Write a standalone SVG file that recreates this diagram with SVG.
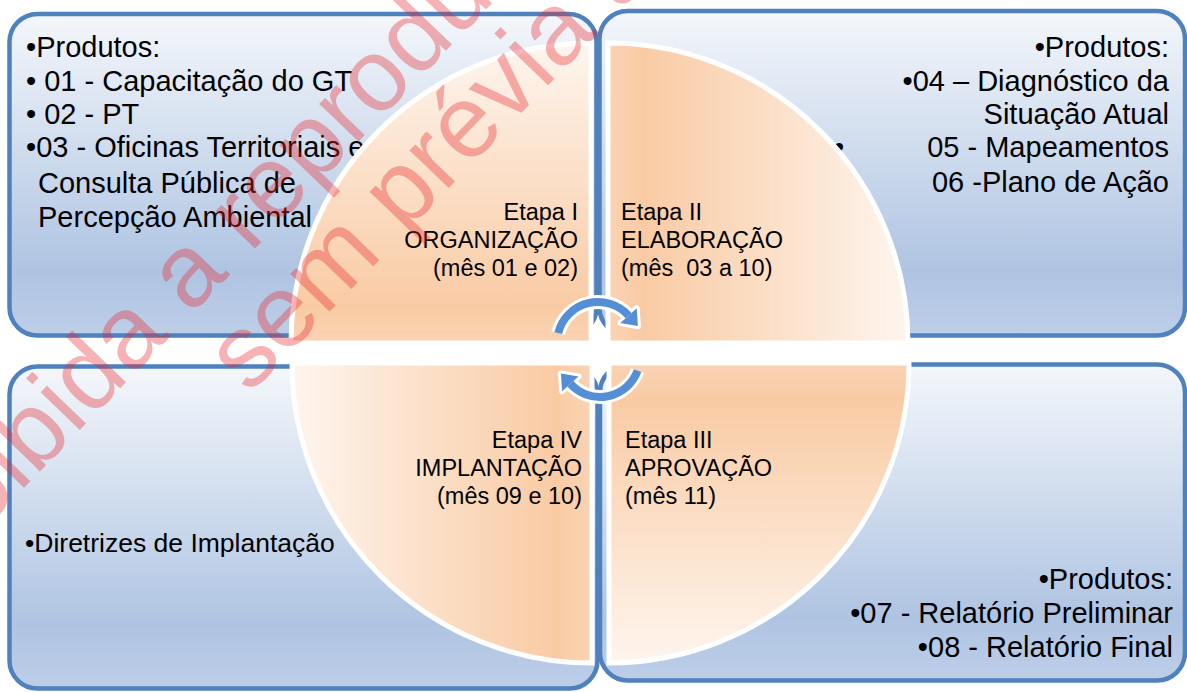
<svg xmlns="http://www.w3.org/2000/svg" width="1187" height="692" viewBox="0 0 1187 692">
<defs>
<linearGradient id="boxG" x1="0" y1="0" x2="0" y2="1">
<stop offset="0" stop-color="#f4f7fb"/>
<stop offset="0.8" stop-color="#afc4e2"/>
<stop offset="1" stop-color="#bdcee8"/>
</linearGradient>
<linearGradient id="qTL" gradientUnits="userSpaceOnUse" x1="0" y1="43" x2="0" y2="343">
<stop offset="0" stop-color="#fef5ee"/>
<stop offset="0.88" stop-color="#f9cba4"/>
<stop offset="1" stop-color="#fad3b4"/>
</linearGradient>
<linearGradient id="qTR" gradientUnits="userSpaceOnUse" x1="908" y1="0" x2="608" y2="0">
<stop offset="0" stop-color="#fef5ee"/>
<stop offset="0.88" stop-color="#f9cba4"/>
<stop offset="1" stop-color="#fad3b4"/>
</linearGradient>
<linearGradient id="qBR" gradientUnits="userSpaceOnUse" x1="0" y1="663" x2="0" y2="363">
<stop offset="0" stop-color="#fef5ee"/>
<stop offset="0.88" stop-color="#f9cba4"/>
<stop offset="1" stop-color="#fad3b4"/>
</linearGradient>
<linearGradient id="qBL" gradientUnits="userSpaceOnUse" x1="292" y1="0" x2="592" y2="0">
<stop offset="0" stop-color="#fef5ee"/>
<stop offset="0.88" stop-color="#f9cba4"/>
<stop offset="1" stop-color="#fad3b4"/>
</linearGradient>
</defs>
<style>
.box{fill:url(#boxG);stroke:#4f81bd;stroke-width:4.5}
.quad{stroke:#ffffff;stroke-width:5}
.t{font-family:"Liberation Sans",Arial,sans-serif;fill:#000000}
.big{font-size:29px}
.mid{font-size:23.5px}
.halo{fill:none;stroke:#ffffff;stroke-width:14}
.haloH{fill:#ffffff;stroke:#ffffff;stroke-width:6;stroke-linejoin:round}
.arc{fill:none;stroke:#558ed5;stroke-width:8}
.head{fill:#558ed5}
.wm{font-family:"Liberation Sans",Arial,sans-serif;font-size:103px;fill:#e62a2e;fill-opacity:0.36}
</style>
<rect width="1187" height="692" fill="#ffffff"/>

<g id="box-tl">
<rect class="box" x="9.5" y="14" width="587" height="321.5" rx="28"/>
<text class="t big" x="26" y="57">•Produtos:</text>
<text class="t big" x="26" y="91" xml:space="preserve">• 01 - Capacitação do GT</text>
<text class="t big" x="26" y="124" xml:space="preserve">• 02 - PT</text>
<text class="t big" x="26" y="157">•03 - Oficinas Territoriais e</text>
<text class="t big" x="38" y="193">Consulta Pública de</text>
<text class="t big" x="38" y="227">Percepção Ambiental</text>
</g>
<g id="box-tr">
<rect class="box" x="599.5" y="11" width="585.5" height="324.5" rx="28"/>
<g text-anchor="end">
<text class="t big" x="1169" y="57">•Produtos:</text>
<text class="t big" x="1169" y="91">•04 – Diagnóstico da</text>
<text class="t big" x="1169" y="124">Situação Atual</text>
<text class="t big" x="1169" y="157">05 - Mapeamentos</text>
<text class="t big" x="1169" y="192">06 -Plano de Ação</text>
</g>
<text class="t big" x="834" y="157">•</text>
</g>
<g id="box-bl">
<rect class="box" x="9.5" y="366.5" width="588" height="322" rx="28"/>
<text class="t" style="font-size:26.5px" x="25" y="552">•Diretrizes de Implantação</text>
</g>
<g id="box-br">
<rect class="box" x="600" y="364.5" width="585" height="316" rx="28"/>
<g text-anchor="end">
<text class="t big" x="1173" y="589">•Produtos:</text>
<text class="t big" x="1173" y="623">•07 - Relatório Preliminar</text>
<text class="t big" x="1173" y="657">•08 - Relatório Final</text>
</g>
</g>

<g id="etapa-1">
<path class="quad" fill="url(#qTL)" d="M591 343 L291 343 A300 300 0 0 1 591 43 Z"/>
<g text-anchor="end">
<text class="t mid" x="578" y="220">Etapa I</text>
<text class="t mid" x="578" y="248">ORGANIZAÇÃO</text>
<text class="t mid" x="578" y="276">(mês 01 e 02)</text>
</g>
</g>
<g id="etapa-2">
<path class="quad" fill="url(#qTR)" d="M608 343 L608 43 A300 300 0 0 1 908 343 Z"/>
<text class="t mid" x="621" y="220">Etapa II</text>
<text class="t mid" x="621" y="248">ELABORAÇÃO</text>
<text class="t mid" x="621" y="276" xml:space="preserve">(mês  03 a 10)</text>
</g>
<g id="etapa-3">
<path class="quad" fill="url(#qBR)" d="M609 363 L909 363 A300 300 0 0 1 609 663 Z"/>
<text class="t mid" x="625" y="448">Etapa III</text>
<text class="t mid" x="625" y="476">APROVAÇÃO</text>
<text class="t mid" x="625" y="504">(mês 11)</text>
</g>
<g id="etapa-4">
<path class="quad" fill="url(#qBL)" d="M592 363 L592 663 A300 300 0 0 1 292 363 Z"/>
<g text-anchor="end">
<text class="t mid" x="582" y="448">Etapa IV</text>
<text class="t mid" x="582" y="476">IMPLANTAÇÃO</text>
<text class="t mid" x="582" y="504">(mês 09 e 10)</text>
</g>
</g>

<g id="connectors">
<path class="halo" d="M558.2 333.1 A41 41 0 0 1 628.5 315.6"/>
<polygon class="haloH" points="636.7,308.2 637.9,326 620.3,323"/>
<path class="arc" d="M558.2 333.1 A41 41 0 0 1 628.5 315.6"/>
<polygon class="head" points="636.7,308.2 637.9,326 620.3,323"/>
<path class="halo" d="M637.6 370.7 A40 40 0 0 1 570.3 383.8"/>
<polygon class="haloH" points="562.1,391.2 560.9,373.4 578.5,376.4"/>
<path class="arc" d="M637.6 370.7 A40 40 0 0 1 570.3 383.8"/>
<polygon class="head" points="562.1,391.2 560.9,373.4 578.5,376.4"/>
</g>

<g id="watermark">
<text class="wm" transform="translate(-92,608) rotate(-46)">Proibida a reprodução</text>
<text class="wm" transform="translate(249,395) rotate(-46)">sem prévia autorização</text>
</g>
</svg>
